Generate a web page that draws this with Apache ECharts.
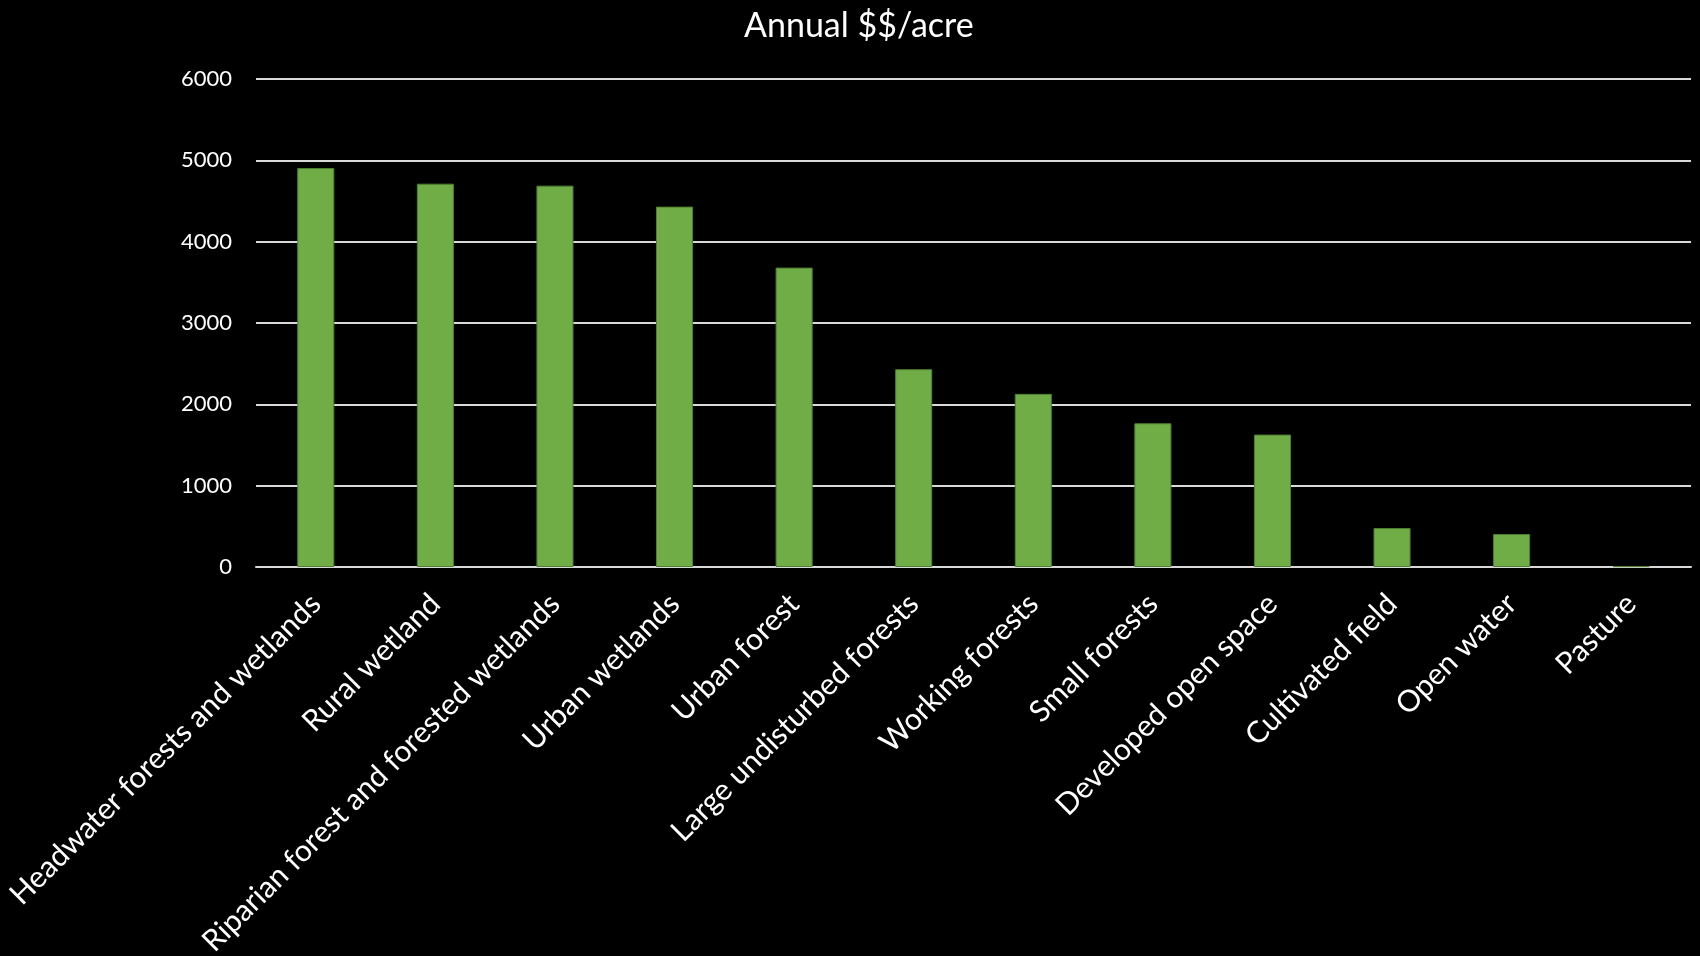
<!DOCTYPE html>
<html><head><meta charset="utf-8">
<script src="https://cdn.jsdelivr.net/npm/echarts@6/dist/echarts.min.js"></script>
<style>html,body{margin:0;padding:0;background:#000;}#c{width:1700px;height:956px;}</style>
</head><body><div id="c"></div>
<script>
const categories = ["Headwater forests and wetlands","Rural wetland","Riparian forest and forested wetlands","Urban wetlands","Urban forest","Large undisturbed forests","Working forests","Small forests","Developed open space","Cultivated field","Open water","Pasture"];
const values = [4906, 4713, 4689, 4431, 3681, 2432, 2129, 1767, 1628, 479, 405, 10];
const titleText = "Annual $$/acre";
const yMin = 0, yMax = 6000, yStep = 1000;

const chart = echarts.init(document.getElementById('c'), null, {renderer:'canvas'});
chart.setOption({
  backgroundColor: '#000',
  animation: false,
  textStyle: {fontFamily: 'Lato'},
  title: {text: titleText, left: 739, top: 4,
    textStyle: {color: '#fff', fontFamily: 'Lato', fontWeight: 'normal', fontSize: 34}},
  grid: {left: 256, right: 9, top: 79, bottom: 389, containLabel: false, outerBoundsMode: 'none'},
  xAxis: {type: 'category', data: categories,
    axisLine: {show: true, lineStyle: {color: '#d9d9d9', width: 2}},
    axisTick: {show: false},
    axisLabel: {color: '#fff', fontSize: 30, rotate: 45, margin: 32, interval: 0, fontFamily: 'Lato'}},
  yAxis: {type: 'value', min: yMin, max: yMax, interval: yStep,
    axisLine: {show: false}, axisTick: {show: false},
    splitLine: {lineStyle: {color: '#d9d9d9', width: 2}},
    axisLabel: {color: '#fff', fontSize: 22, margin: 24, fontFamily: 'Lato', formatter: v => String(v)}},
  series: [{type: 'bar', data: values, barWidth: '31%',
    itemStyle: {color: '#70AD47', borderColor: '#4f7f32', borderWidth: 1}}]
});
</script></body></html>
